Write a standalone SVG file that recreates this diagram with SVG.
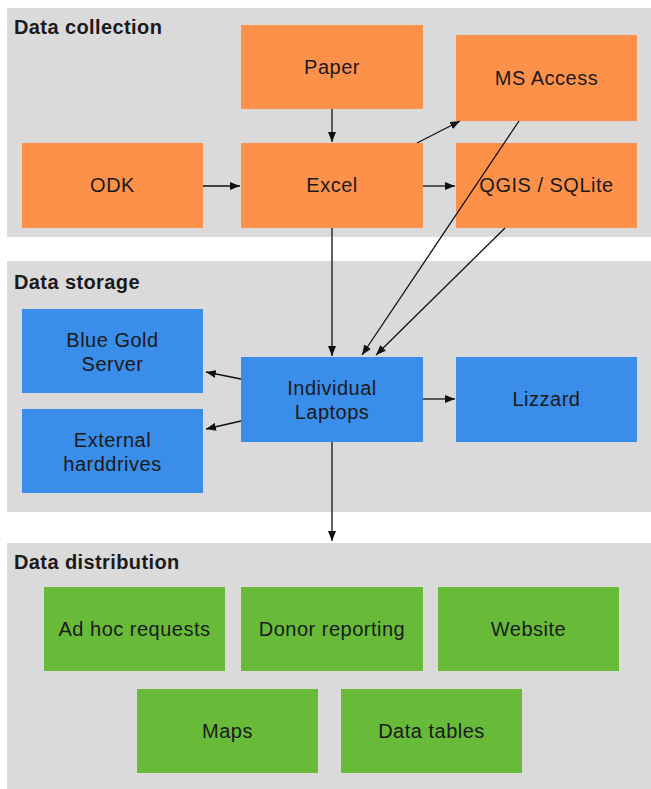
<svg xmlns="http://www.w3.org/2000/svg" width="651" height="789" viewBox="0 0 651 789">
<style>
.panel{fill:#dadada}
.title{font-family:"Liberation Sans",Arial,sans-serif;font-weight:bold;font-size:20px;letter-spacing:0.4px;fill:#1a1a1a}
.lbl{font-family:"Liberation Sans",Arial,sans-serif;font-size:20px;letter-spacing:0.5px;fill:#1a1a1a;text-anchor:middle}
.o{fill:#fe9149}
.b{fill:#3a8de9}
.g{fill:#67bb38}
.c{stroke:#111;stroke-width:1.3;fill:none;marker-end:url(#ah)}
</style>
<defs>
<marker id="ah" viewBox="0 0 10 8" refX="10" refY="4" markerWidth="10" markerHeight="8" markerUnits="userSpaceOnUse" orient="auto">
<path d="M0,0 L10,4 L0,8 Z" fill="#111"/>
</marker>
</defs>
<rect width="651" height="789" fill="#ffffff"/>
<g id="panels">
<rect class="panel" x="7" y="8" width="644" height="229"/>
<rect class="panel" x="7" y="261" width="644" height="251"/>
<rect class="panel" x="7" y="543" width="644" height="246"/>
<text class="title" x="14" y="34">Data collection</text>
<text class="title" x="14" y="289">Data storage</text>
<text class="title" x="14" y="569">Data distribution</text>
</g>
<g id="paper"><rect class="o" x="241" y="25" width="182" height="84"/><text class="lbl" x="332" y="74">Paper</text></g>
<g id="msaccess"><rect class="o" x="456" y="35" width="181" height="86"/><text class="lbl" x="546.5" y="85">MS Access</text></g>
<g id="odk"><rect class="o" x="22" y="143" width="181" height="85"/><text class="lbl" x="112.5" y="192">ODK</text></g>
<g id="excel"><rect class="o" x="241" y="143" width="182" height="85"/><text class="lbl" x="332" y="192">Excel</text></g>
<g id="qgis"><rect class="o" x="456" y="143" width="181" height="85"/><text class="lbl" x="546.5" y="192">QGIS / SQLite</text></g>
<g id="bluegold"><rect class="b" x="22" y="309" width="181" height="84"/><text class="lbl" x="112.5" y="347">Blue Gold</text><text class="lbl" x="112.5" y="371">Server</text></g>
<g id="external"><rect class="b" x="22" y="409" width="181" height="84"/><text class="lbl" x="112.5" y="447">External</text><text class="lbl" x="112.5" y="471">harddrives</text></g>
<g id="laptops"><rect class="b" x="241" y="357" width="182" height="85"/><text class="lbl" x="332" y="395">Individual</text><text class="lbl" x="332" y="419">Laptops</text></g>
<g id="lizzard"><rect class="b" x="456" y="357" width="181" height="85"/><text class="lbl" x="546.5" y="406">Lizzard</text></g>
<g id="adhoc"><rect class="g" x="44" y="587" width="181" height="84"/><text class="lbl" x="134.5" y="636">Ad hoc requests</text></g>
<g id="donor"><rect class="g" x="241" y="587" width="182" height="84"/><text class="lbl" x="332" y="636">Donor reporting</text></g>
<g id="website"><rect class="g" x="438" y="587" width="181" height="84"/><text class="lbl" x="528.5" y="636">Website</text></g>
<g id="maps"><rect class="g" x="137" y="689" width="181" height="84"/><text class="lbl" x="227.5" y="738">Maps</text></g>
<g id="datatables"><rect class="g" x="341" y="689" width="181" height="84"/><text class="lbl" x="431.5" y="738">Data tables</text></g>
<g id="connectors">
<line class="c" x1="332" y1="109" x2="332" y2="142"/>
<line class="c" x1="203" y1="186" x2="240" y2="186"/>
<line class="c" x1="423" y1="186" x2="455" y2="186"/>
<line class="c" x1="417" y1="143" x2="460" y2="121"/>
<line class="c" x1="332" y1="228" x2="332" y2="356"/>
<line class="c" x1="519" y1="121" x2="362" y2="355"/>
<line class="c" x1="505" y1="228" x2="376" y2="355"/>
<line class="c" x1="241" y1="379" x2="206" y2="372"/>
<line class="c" x1="241" y1="421" x2="206" y2="429"/>
<line class="c" x1="423" y1="399" x2="455" y2="399"/>
<line class="c" x1="332" y1="442" x2="332" y2="541"/>
</g>
</svg>
